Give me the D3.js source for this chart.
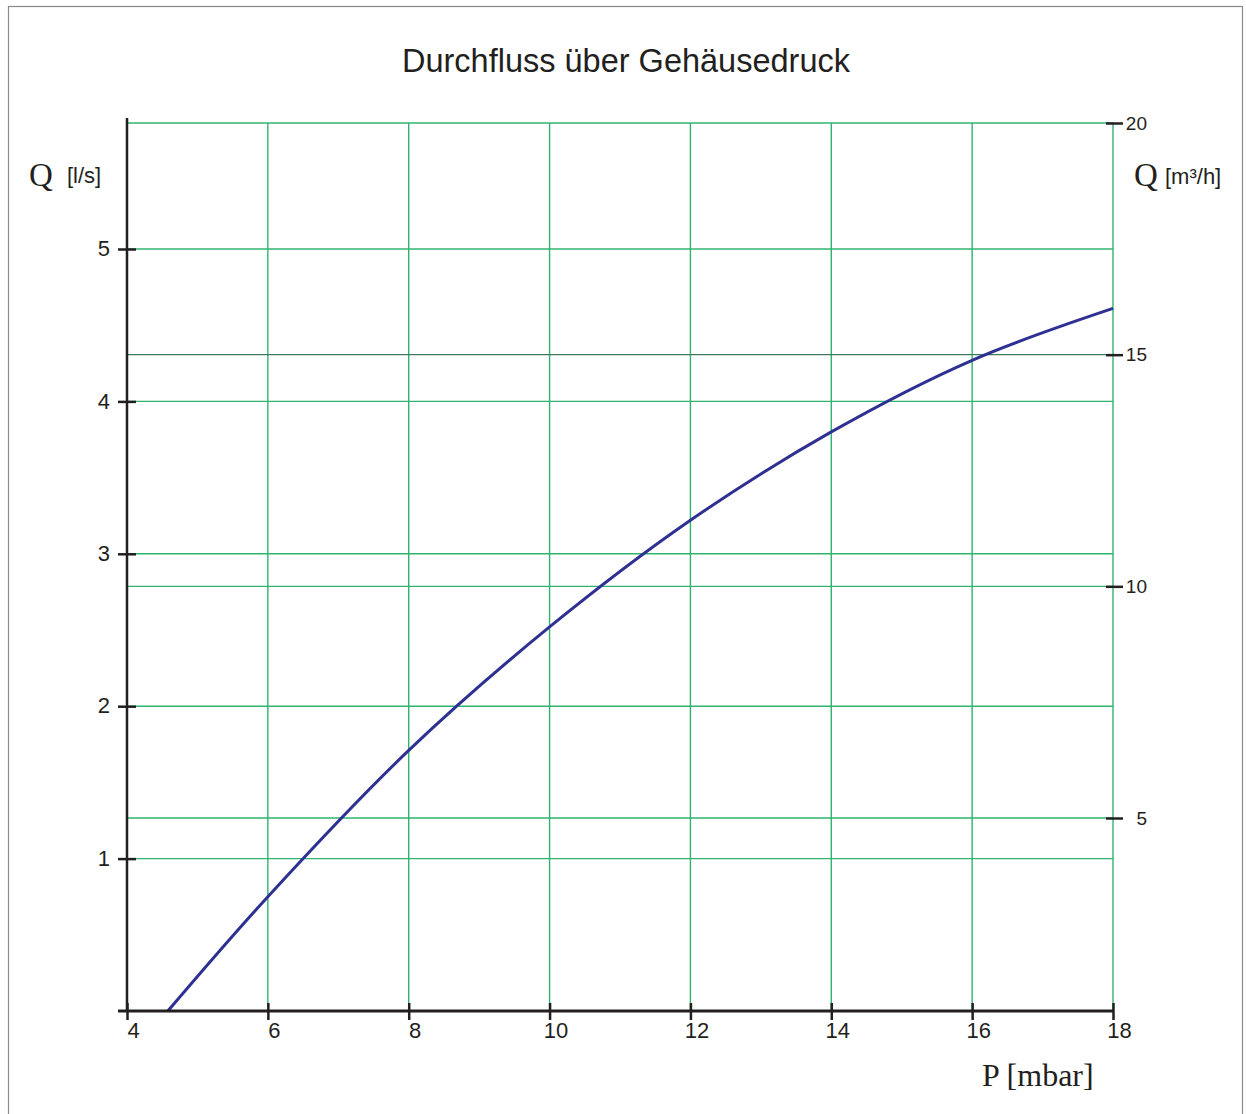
<!DOCTYPE html>
<html>
<head>
<meta charset="utf-8">
<style>
  body { margin: 0; background: #fff; font-family: "Liberation Sans", Arial, sans-serif; }
  .tick text { fill: #231f20; font-family: "Liberation Sans", Arial, sans-serif; font-size: 22px; }
  .tick line { stroke: #231f20; stroke-width: 2.5; }
  .grid line { stroke: #2fb36f; stroke-width: 1.4; }
  .serif { font-family: "Liberation Serif", "Times New Roman", serif; fill: #231f20; }
</style>
</head>
<body>
<script src="https://d3js.org/d3.v7.min.js"></script>
<script>
// pressure ticks [mbar]
var pTicks = [4, 6, 8, 10, 12, 14, 16, 18];
// left axis ticks [l/s]
var qTicks = [1, 2, 3, 4, 5];
// right axis ticks [m3/h]
var qhTicks = [5, 10, 15, 20];
// curve
var curveP = [4.58, 6, 8, 10, 12, 14, 16, 18];
var curveQ = [0, 0.75, 1.71, 2.52, 3.22, 3.80, 4.27, 4.61];

var W = 1246, H = 1114;

var x = d3.scaleLinear().domain([4, 18]).range([127, 1113]);
var y = d3.scaleLinear().domain([0, 5]).range([1011, 249]);
var yR = d3.scaleLinear().domain([5, 20]).range([818, 123]);

var svg = d3.select("body").append("svg")
    .attr("width", W)
    .attr("height", H);

// frame
svg.append("rect")
    .attr("x", 8.5).attr("y", 6.5)
    .attr("width", 1234).attr("height", 1120)
    .attr("fill", "none")
    .attr("stroke", "#8a8a8a")
    .attr("stroke-width", 1.2);

// title
svg.append("text")
    .attr("x", 626).attr("y", 72)
    .attr("text-anchor", "middle")
    .style("font-size", "32.5px")
    .style("fill", "#231f20")
    .text("Durchfluss über Gehäusedruck");

var plotTop = yR(20), plotBottom = y(0);

// grid
var grid = svg.append("g").attr("class", "grid");
grid.selectAll(".v")
    .data(pTicks.slice(1))
    .enter().append("line")
    .attr("x1", function(d) { return x(d); })
    .attr("x2", function(d) { return x(d); })
    .attr("y1", plotTop)
    .attr("y2", plotBottom);
grid.selectAll(".hl")
    .data(qTicks)
    .enter().append("line")
    .attr("x1", x(4)).attr("x2", x(18))
    .attr("y1", function(d) { return y(d); })
    .attr("y2", function(d) { return y(d); });
grid.selectAll(".hr")
    .data(qhTicks)
    .enter().append("line")
    .style("stroke", function(d) { return d == 15 ? "#3f7a5a" : null; })
    .attr("x1", x(4)).attr("x2", x(18))
    .attr("y1", function(d) { return yR(d); })
    .attr("y2", function(d) { return yR(d); });

// curve
var pts = curveP.map(function(p, i) { return [p, curveQ[i]]; });
svg.append("path")
    .datum(pts)
    .attr("fill", "none")
    .attr("stroke", "#2e3192")
    .attr("stroke-width", 3)
    .attr("d", d3.line()
      .x(function(d) { return x(d[0]); })
      .y(function(d) { return y(d[1]); })
      .curve(d3.curveCatmullRom.alpha(0.5)));

// bottom axis
var xAx = svg.append("g")
    .attr("transform", "translate(0," + plotBottom + ")")
    .call(d3.axisBottom(x).tickValues(pTicks).tickSize(9).tickFormat(d3.format("d")));
xAx.select(".domain").remove();
xAx.selectAll(".tick line").attr("y1", -8);
xAx.selectAll(".tick text").attr("y", 27).attr("dy", 0).attr("dx", 6);
xAx.append("line")
    .attr("x1", 118).attr("x2", x(18))
    .attr("stroke", "#231f20").attr("stroke-width", 3);

// left axis
var yAx = svg.append("g")
    .attr("transform", "translate(" + x(4) + ",0)")
    .call(d3.axisLeft(y).tickValues(qTicks).tickSize(9).tickFormat(d3.format("d")));
yAx.select(".domain").remove();
yAx.selectAll(".tick line").attr("x2", 9).attr("x1", -9);
yAx.selectAll(".tick text").attr("x", -17).attr("dy", "0.3em");
yAx.append("line")
    .attr("y1", 118).attr("y2", plotBottom)
    .attr("stroke", "#231f20").attr("stroke-width", 2.5);

// right axis
var rAx = svg.append("g")
    .attr("transform", "translate(" + x(18) + ",0)")
    .call(d3.axisRight(yR).tickValues(qhTicks).tickSize(10).tickFormat(d3.format("d")));
rAx.select(".domain").remove();
rAx.selectAll(".tick line").attr("x1", -7).attr("x2", 10);
rAx.selectAll(".tick text").attr("x", 34).attr("text-anchor", "end").attr("dy", "0.32em")
    .style("font-size", "19px");

// axis titles
svg.append("text").attr("class", "serif")
    .attr("x", 29).attr("y", 186).style("font-size", "33px").text("Q");
svg.append("text")
    .attr("x", 67).attr("y", 183).style("font-size", "22px").style("fill", "#231f20").text("[l/s]");
svg.append("text").attr("class", "serif")
    .attr("x", 1134).attr("y", 186).style("font-size", "33px").text("Q");
svg.append("text")
    .attr("x", 1165).attr("y", 184).style("font-size", "22px").style("fill", "#231f20").text("[m³/h]");
svg.append("text").attr("class", "serif")
    .attr("x", 982).attr("y", 1086).style("font-size", "32px").text("P [mbar]");
</script>
</body>
</html>
